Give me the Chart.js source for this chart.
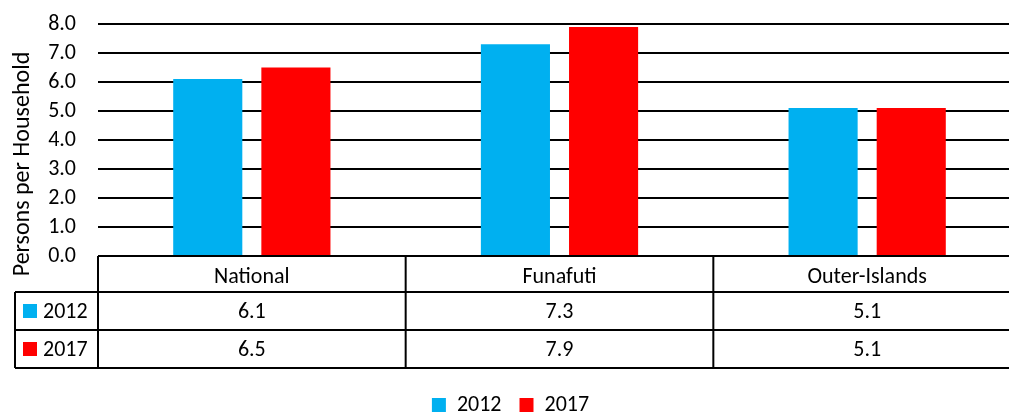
<!DOCTYPE html>
<html>
<head>
<meta charset="utf-8">
<script src="https://cdn.jsdelivr.net/npm/chart.js@4/dist/chart.umd.min.js"></script>
<style>
  html, body { margin: 0; padding: 0; background: #fff; overflow: hidden; }
  #wrap { position: relative; width: 1021px; height: 414px; }
</style>
</head>
<body>
<div id="wrap"><canvas id="chart"></canvas></div>
<script>
// Datos: personas por hogar
const categories = ['National', 'Funafuti', 'Outer-Islands'];
const seriesNames = ['2012', '2017'];
const values2012 = [6.1, 7.3, 5.1];
const values2017 = [6.5, 7.9, 5.1];
const yTicks = [0, 1, 2, 3, 4, 5, 6, 7, 8];
const yTitle = 'Persons per Household';

const colors = ['#00B0F0', '#FF0000'];
const FONT = "Carlito, 'Open Sans', sans-serif";
const SIZE = 22;

// Tabla de datos bajo el eje X (estilo Excel) + titulo del eje Y
const dataTable = {
  id: 'dataTable',
  afterLayout(chart) {
    // bajar un poco la leyenda
    chart.legend.top += 12;
    chart.legend.bottom += 12;
  },
  afterDraw(chart) {
    const ctx = chart.ctx;
    const x = chart.scales.x;
    const top = chart.chartArea.bottom;
    const rows = [top, top + 36, top + 74, top + 112];
    const keyLeft = 15;
    const catW = x.width / categories.length;

    ctx.save();
    ctx.strokeStyle = '#000';
    ctx.lineWidth = 2;
    ctx.beginPath();
    // horizontales
    ctx.moveTo(x.left, rows[0]); ctx.lineTo(x.right, rows[0]);
    for (let r = 1; r < rows.length; r++) {
      ctx.moveTo(keyLeft, rows[r]); ctx.lineTo(x.right, rows[r]);
    }
    // verticales
    for (let i = 0; i <= categories.length; i++) {
      const px = x.left + i * catW;
      ctx.moveTo(px, rows[0]); ctx.lineTo(px, rows[3]);
    }
    ctx.moveTo(keyLeft, rows[1]); ctx.lineTo(keyLeft, rows[3]);
    ctx.stroke();

    ctx.font = SIZE + 'px ' + FONT;
    ctx.textBaseline = 'middle';
    chart.data.datasets.forEach((ds, r) => {
      const cy = (rows[r + 1] + rows[r + 2]) / 2;
      ctx.fillStyle = ds.backgroundColor;
      ctx.fillRect(keyLeft + 8, cy - 7, 14, 14);
      ctx.fillStyle = '#000';
      ctx.textAlign = 'left';
      ctx.fillText(ds.label, keyLeft + 28, cy + 1);
      ctx.textAlign = 'center';
      ds.data.forEach((v, i) => {
        ctx.fillText(v.toFixed(1), x.getPixelForValue(i), cy + 1);
      });
    });

    // titulo vertical del eje Y
    ctx.translate(23, (chart.chartArea.top + rows[1]) / 2 + 6);
    ctx.rotate(-Math.PI / 2);
    ctx.font = '24px ' + FONT;
    ctx.textAlign = 'center';
    ctx.fillText(yTitle, 0, 0);
    ctx.restore();
  }
};

new Chart(document.getElementById('chart'), {
  type: 'bar',
  data: {
    labels: categories,
    datasets: [
      { label: seriesNames[0], data: values2012, backgroundColor: colors[0] },
      { label: seriesNames[1], data: values2017, backgroundColor: colors[1] }
    ]
  },
  options: {
    responsive: true,
    maintainAspectRatio: false,
    animation: false,
    layout: { padding: 0 },
    datasets: {
      bar: { categoryPercentage: 0.573, barPercentage: 0.784 }
    },
    scales: {
      x: {
        grid: { display: false },
        border: { display: false },
        ticks: { color: '#000', font: { family: FONT, size: SIZE }, padding: 0, maxRotation: 0 },
        afterFit(scale) { scale.height = 108; }
      },
      y: {
        min: 0,
        max: 8,
        afterBuildTicks(scale) { scale.ticks = yTicks.map(v => ({ value: v })); },
        grid: { color: '#000', lineWidth: 2, drawTicks: false },
        border: { display: false },
        ticks: {
          color: '#000',
          font: { family: FONT, size: SIZE },
          padding: 22,
          autoSkip: false,
          callback: v => v.toFixed(1)
        },
        afterFit(scale) {
          scale.width = 98;
          scale.paddingTop = 24;
          scale.paddingBottom = 0;
        }
      }
    },
    plugins: {
      legend: {
        position: 'bottom',
        labels: {
          color: '#000',
          font: { family: FONT, size: SIZE },
          boxWidth: 14,
          boxHeight: 14,
          padding: 18
        }
      },
      tooltip: { enabled: false }
    }
  },
  plugins: [dataTable]
});
</script>
</body>
</html>
